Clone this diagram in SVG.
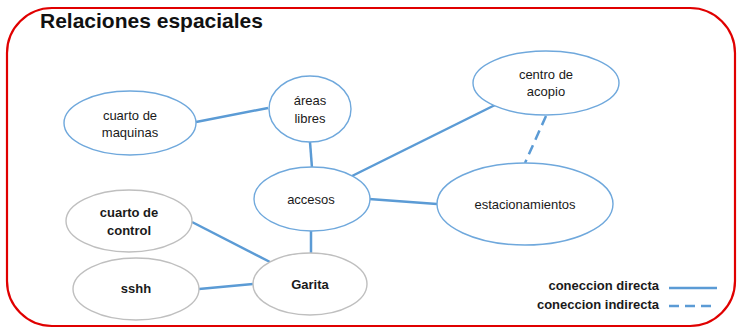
<svg xmlns="http://www.w3.org/2000/svg" width="737" height="329" viewBox="0 0 737 329">
<style>
  .frame{fill:#fff;stroke:#e00000;stroke-width:2.2}
  .nb{fill:#fff;stroke:#6fa8dc;stroke-width:1.4}
  .ng{fill:#fff;stroke:#bfbfbf;stroke-width:1.4}
  .t{font-family:"Liberation Sans",Arial,sans-serif;font-size:13px;fill:#1a1a1a;text-anchor:middle;dominant-baseline:central}
  .b{font-weight:bold}
  .c{stroke:#5b9bd5;stroke-width:2.5;fill:none}
  .d{stroke-dasharray:10 6}
  .leg{font-family:"Liberation Sans",Arial,sans-serif;font-size:13px;font-weight:bold;fill:#1a1a1a;text-anchor:end}
</style>
<rect class="frame" x="7" y="8" width="728" height="318" rx="45" ry="45"/>
<text x="40" y="28" font-family="'Liberation Sans',Arial,sans-serif" font-size="21" font-weight="bold" fill="#111">Relaciones espaciales</text>
<g id="connectors">
  <line class="c" x1="196" y1="122" x2="268" y2="108"/>
  <line class="c" x1="310" y1="142" x2="312" y2="168"/>
  <line class="c" x1="350" y1="177" x2="495" y2="105"/>
  <line class="c d" x1="546" y1="116" x2="525" y2="163"/>
  <line class="c" x1="369" y1="199" x2="437" y2="204"/>
  <line class="c" x1="311" y1="231" x2="311" y2="253"/>
  <line class="c" x1="192" y1="222" x2="270" y2="262"/>
  <line class="c" x1="199" y1="289" x2="253" y2="284"/>
</g>
<g id="cuarto-maquinas">
  <ellipse class="nb" cx="130" cy="123" rx="66" ry="32"/>
  <text class="t" x="130" y="115">cuarto de</text>
  <text class="t" x="130" y="132">maquinas</text>
</g>
<g id="areas-libres">
  <ellipse class="nb" cx="310" cy="109" rx="41" ry="33"/>
  <text class="t" x="310" y="100">áreas</text>
  <text class="t" x="310" y="118">libres</text>
</g>
<g id="centro-acopio">
  <ellipse class="nb" cx="546" cy="83" rx="73" ry="32"/>
  <text class="t" x="546" y="74">centro de</text>
  <text class="t" x="546" y="91">acopio</text>
</g>
<g id="accesos">
  <ellipse class="nb" cx="312" cy="199" rx="58" ry="32"/>
  <text class="t" x="311" y="199" font-size="15">accesos</text>
</g>
<g id="estacionamientos">
  <ellipse class="nb" cx="525" cy="204" rx="88" ry="41"/>
  <text class="t" x="525" y="204">estacionamientos</text>
</g>
<g id="cuarto-control">
  <ellipse class="ng" cx="129" cy="221" rx="63" ry="31"/>
  <text class="t b" x="129" y="212" font-size="12.5">cuarto de</text>
  <text class="t b" x="129" y="230" font-size="12.5">control</text>
</g>
<g id="sshh">
  <ellipse class="ng" cx="136" cy="289" rx="63" ry="31"/>
  <text class="t b" x="136" y="288" font-size="12.5">sshh</text>
</g>
<g id="garita">
  <ellipse class="ng" cx="310" cy="284" rx="57" ry="31"/>
  <text class="t b" x="310" y="284" font-size="16">Garita</text>
</g>
<g id="legend">
  <text class="leg" x="659" y="290">coneccion directa</text>
  <text class="leg" x="659" y="309">coneccion indirecta</text>
  <line class="c" x1="669" y1="288" x2="717" y2="288"/>
  <line class="c d" x1="669" y1="306" x2="713" y2="306"/>
</g>
</svg>
